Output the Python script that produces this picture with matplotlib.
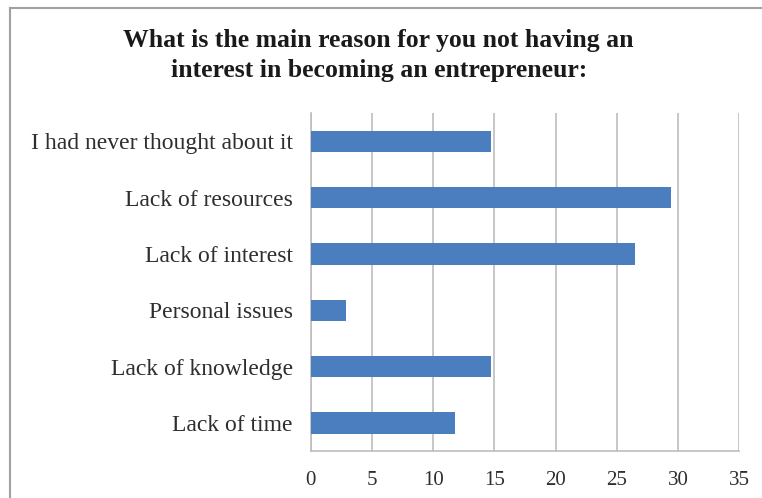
import matplotlib
matplotlib.use("Agg")
import matplotlib.pyplot as plt
from matplotlib.lines import Line2D

reasons = [
    "I had never thought about it",
    "Lack of resources",
    "Lack of interest",
    "Personal issues",
    "Lack of knowledge",
    "Lack of time",
]
percent = [14.7, 29.4, 26.5, 2.9, 14.7, 11.8]
xticks = [0, 5, 10, 15, 20, 25, 30, 35]

plt.rcParams["font.family"] = ["Liberation Serif", "DejaVu Serif"]

fig = plt.figure(figsize=(7.62, 4.98), dpi=100)
ax = fig.add_axes([0.408, 0.094, 0.562, 0.679])

ypos = list(range(len(reasons)))[::-1]
ax.barh(ypos, percent, height=0.38, color="#4a7ebf", zorder=3)

ax.set_xlim(0, 35)
ax.set_ylim(-0.5, len(reasons) - 0.5)
ax.set_xticks(xticks)
ax.set_xticklabels([str(t) for t in xticks], fontsize=15, color="#2e2e2e")
ax.set_yticks(ypos)
ax.set_yticklabels(reasons, fontsize=17, color="#2e2e2e")
ax.tick_params(axis="x", length=0, pad=14)
ax.tick_params(axis="y", length=0, pad=13)

ax.grid(axis="x", color="#bdbdbd", linewidth=1.2, zorder=0)
for side in ["top", "right"]:
    ax.spines[side].set_visible(False)
for side in ["left", "bottom"]:
    ax.spines[side].set_color("#bdbdbd")
    ax.spines[side].set_linewidth(1.2)

fig.text(0.497, 0.888, "What is the main reason for you not having an\ninterest in becoming an entrepreneur:",
         ha="center", va="center", fontsize=18.5, fontweight="bold", linespacing=1.4,
         color="#1a1a1a")

# frame around the chart area
fig.add_artist(Line2D([0.013, 0.013], [0, 0.984], transform=fig.transFigure,
                      color="#a0a0a0", linewidth=1.5))
fig.add_artist(Line2D([0.013, 1.0], [0.984, 0.984], transform=fig.transFigure,
                      color="#a0a0a0", linewidth=1.5))

fig.savefig("out.png", dpi=100)
